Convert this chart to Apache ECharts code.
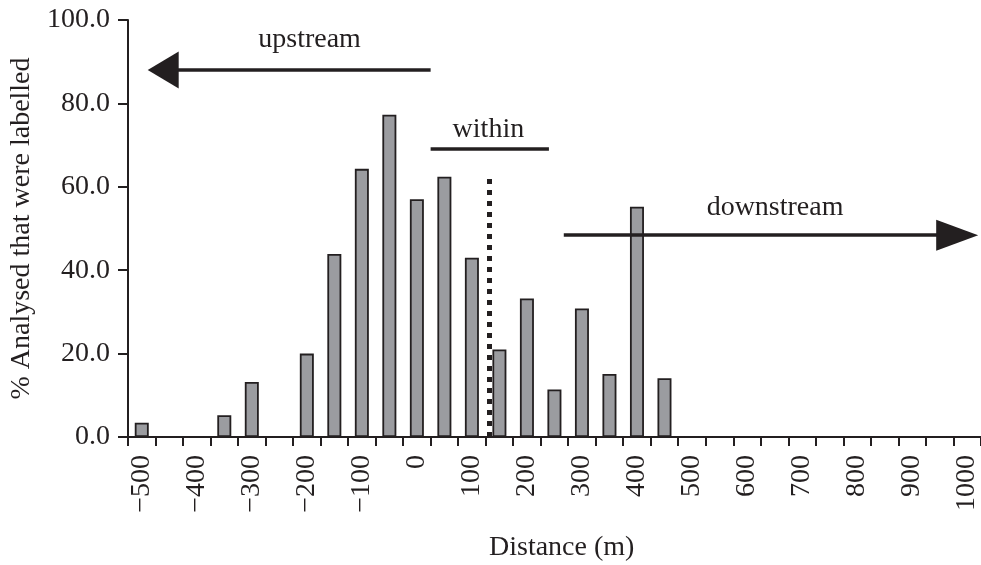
<!DOCTYPE html>
<html><head><meta charset="utf-8">
<script src="https://cdn.jsdelivr.net/npm/echarts@6/dist/echarts.min.js"></script>
<style>html,body{margin:0;padding:0;background:#fff}#c{width:981px;height:565px}</style>
</head><body><div id="c"></div>
<script>
// Distance categories (m), 50 m bins
const distances = ["−500","−450","−400","−350","−300","−250","−200","−150","−100","−50",
  "0","50","100","150","200","250","300","350","400","450",
  "500","550","600","650","700","750","800","850","900","950","1000"];
// % analysed that were labelled
const percentLabelled = [3.4, 0, 0, 5.2, 13.2, 0, 20.0, 43.9, 64.3, 77.3,
  57.0, 62.4, 43.0, 21.0, 33.2, 11.4, 30.8, 15.1, 55.2, 14.1,
  0, 0, 0, 0, 0, 0, 0, 0, 0, 0, 0];
const yTickValues = [0, 20, 40, 60, 80, 100];
const regionLabels = ["upstream", "within", "downstream"];

const INK = '#231f20';
const FONT = '"Liberation Serif", "Times New Roman", serif';

const chart = echarts.init(document.getElementById('c'), null, {renderer: 'canvas'});
chart.setOption({
  animation: false,
  backgroundColor: '#fff',
  grid: {left: 128, top: 20, width: 859, height: 417, containLabel: false},
  xAxis: [{
    type: 'category',
    data: distances,
    boundaryGap: true,
    axisLine: {show: true, onZero: false, lineStyle: {color: INK, width: 2}},
    axisTick: {show: true, interval: 0, length: 9, lineStyle: {color: INK, width: 2}},
    axisLabel: {interval: 1, rotate: 90, margin: 18, color: INK, fontSize: 28, fontFamily: FONT},
    splitLine: {show: false}
  }, {
    type: 'value', min: -525, max: 1025, show: false,
    axisLine: {onZero: false}
  }],
  yAxis: {
    type: 'value',
    min: yTickValues[0], max: yTickValues[yTickValues.length - 1], interval: 20,
    name: '% Analysed that were labelled',
    nameLocation: 'middle', nameGap: 72,
    nameTextStyle: {color: INK, fontSize: 28, fontFamily: FONT},
    axisLine: {show: true, onZero: false, lineStyle: {color: INK, width: 2}},
    axisTick: {show: true, length: 10, lineStyle: {color: INK, width: 2}},
    axisLabel: {margin: 18, color: INK, fontSize: 28, fontFamily: FONT,
      formatter: v => v.toFixed(1)},
    splitLine: {show: false}
  },
  graphic: [{
    type: 'text', x: 489, top: 534,
    style: {text: 'Distance (m)', fill: INK, font: '28px ' + FONT, align: 'center'}
  }],
  series: [{
    type: 'bar',
    data: percentLabelled,
    barWidth: 14,
    itemStyle: {color: '#9b9ca0', borderColor: INK, borderWidth: 1.8},
    z: 2
  }, {
    type: 'line',
    xAxisIndex: 1,
    data: [],
    silent: true,
    markLine: {
      silent: true,
      animation: false,
      label: {show: false},
      emphasis: {disabled: true},
      data: [
        [{coord: [25, 88.0], symbol: 'none', lineStyle: {color: INK, width: 3.5, type: 'solid'}},
         {coord: [-461, 88.0], symbol: 'triangle', symbolSize: [37, 31]}],
        [{coord: [25, 69.1], symbol: 'none', lineStyle: {color: INK, width: 3.5, type: 'solid'}},
         {coord: [240, 69.1], symbol: 'none'}],
        [{coord: [132, 0], symbol: 'none', lineStyle: {color: INK, width: 5, type: [5, 6], cap: 'butt'}},
         {coord: [132, 62], symbol: 'none'}],
        [{coord: [267, 48.4], symbol: 'none', lineStyle: {color: INK, width: 3.5, type: 'solid'}},
         {coord: [982, 48.4], symbol: 'triangle', symbolSize: [31, 42]}]
      ],
      itemStyle: {color: INK}
    },
    markPoint: {
      silent: true,
      symbol: 'circle',
      symbolSize: 1,
      itemStyle: {color: 'rgba(0,0,0,0)'},
      label: {show: true, position: 'inside', formatter: '{b}', color: INK, fontSize: 28, fontFamily: FONT},
      data: [
        {name: regionLabels[0], coord: [-195, 95.3]},
        {name: regionLabels[1], coord: [130, 73.8]},
        {name: regionLabels[2], coord: [651, 55.0]}
      ]
    },
    z: 3
  }]
});
</script>
</body></html>
